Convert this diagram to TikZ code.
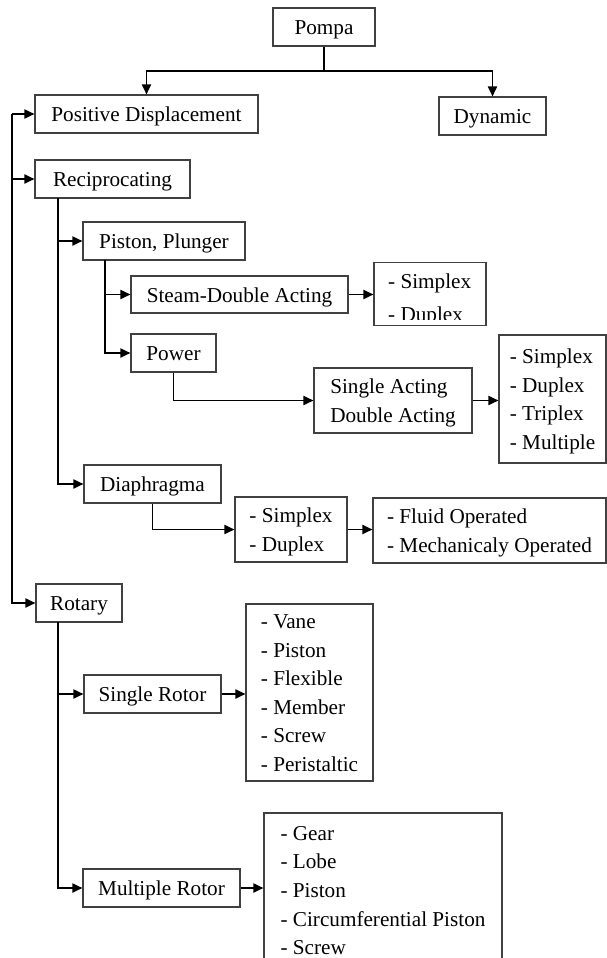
\documentclass[tikz,border=0pt]{standalone}
\usepackage{fontspec}
\setmainfont{Liberation Serif}
\usetikzlibrary{arrows.meta}
\newcommand\st{\rule[-6.8pt]{0pt}{28.6pt}}
\begin{document}
\begin{tikzpicture}[x=1pt,y=-1pt,
  box/.style={draw=black!75, line width=1.1pt, inner sep=0pt, align=left,
    font=\fontsize{21.2pt}{28.6pt}\selectfont},
  conn/.style={line width=1.8pt, black},
  arr/.style={conn, -{Triangle[length=10pt,width=9pt]}}]
\useasboundingbox (0,0) rectangle (607,958);
\clip (0,0) rectangle (607,958);
% boxes
\node[box, minimum width=102pt, minimum height=38pt] (pompa) at (324,27) {\st Pompa};
\node[box, minimum width=223pt, minimum height=38pt] (pd) at (146.5,114) {\st Positive Displacement};
\node[box, minimum width=107pt, minimum height=38pt] (dyn) at (492.5,116) {\st Dynamic};
\node[box, minimum width=155pt, minimum height=38pt] (rec) at (112.5,179) {\st Reciprocating};
\node[box, minimum width=162pt, minimum height=38pt] (pist) at (164,241) {\st Piston, Plunger};
\node[box, minimum width=217pt, minimum height=37pt] (steam) at (239.5,294.5) {\st Steam-Double Acting};
\node[box, minimum width=112pt, minimum height=63pt] (sd1) at (430,294) {};
\begin{scope}
  \clip (374,263) rectangle (486,319.5);
  \node[anchor=north west, inner sep=0pt, align=left,
    font=\fontsize{21.2pt}{33pt}\selectfont] (sd1t) at (388,266.2) {\st - Simplex\\\st - Duplex};
\end{scope}
\node[box, minimum width=85pt, minimum height=38pt] (power) at (173.5,353) {\st Power};
\node[box, minimum width=158pt, minimum height=65pt] (sdact) at (393,400.5) {\st Single Acting\\\st Double Acting};
\node[box, minimum width=107pt, minimum height=128pt] (spx4) at (552.5,399) {\st - Simplex\\\st - Duplex\\\st - Triplex\\\st - Multiple};
\node[box, minimum width=137pt, minimum height=38pt] (dia) at (152.5,484) {\st Diaphragma};
\node[box, minimum width=112pt, minimum height=65pt] (sd2) at (291,529.5) {\st - Simplex\\\st - Duplex};
\node[box, minimum width=233pt, minimum height=65pt] (fluid) at (489.5,530.5) {\st - Fluid Operated\\\st - Mechanicaly Operated};
\node[box, minimum width=86pt, minimum height=38pt] (rot) at (79,603) {\st Rotary};
\node[box, minimum width=137pt, minimum height=38pt] (srot) at (152.5,694) {\st Single Rotor};
\node[box, minimum width=127pt, minimum height=177pt] (vane) at (309.5,692.5) {\st - Vane\\\st - Piston\\\st - Flexible\\\st - Member\\\st - Screw\\\st - Peristaltic};
\node[box, minimum width=157pt, minimum height=38pt] (mrot) at (161.5,888) {\st Multiple Rotor};
\node[box, minimum width=238pt, minimum height=154pt] (gear) at (383,890) {\st - Gear\\\st - Lobe\\\st - Piston\\\st - Circumferential Piston\\\st - Screw};
% connectors
\coordinate (hj) at (324,71);
\draw[conn] (pompa.south) -- (hj);
\draw[arr] (hj) -| (pd.north);
\draw[arr] (hj) -| (dyn.north);
\coordinate (lt) at (12,114);
\draw[arr] (lt) -- (pd.west);
\draw[arr] (lt |- rec.west) -- (rec.west);
\draw[arr] (lt) |- (rot.west);
\coordinate (rv) at (58,198);
\draw[arr] (rv) |- (pist.west);
\draw[arr] (rv) |- (dia.west);
\coordinate (pv) at (105,260);
\draw[arr] (pv) |- (steam.west);
\draw[arr] (pv) |- (power.west);
\draw[arr] (steam.east) -- (steam.east -| sd1.west);
\draw[arr] (power.south) |- (sdact.west);
\draw[arr] (sdact.east) -- (sdact.east -| spx4.west);
\draw[arr] (dia.south) |- (sd2.west);
\draw[arr] (sd2.east) -- (sd2.east -| fluid.west);
\coordinate (ov) at (58,622);
\draw[arr] (ov) |- (srot.west);
\draw[arr] (ov) |- (mrot.west);
\draw[arr] (srot.east) -- (srot.east -| vane.west);
\draw[arr] (mrot.east) -- (mrot.east -| gear.west);
\end{tikzpicture}
\end{document}
